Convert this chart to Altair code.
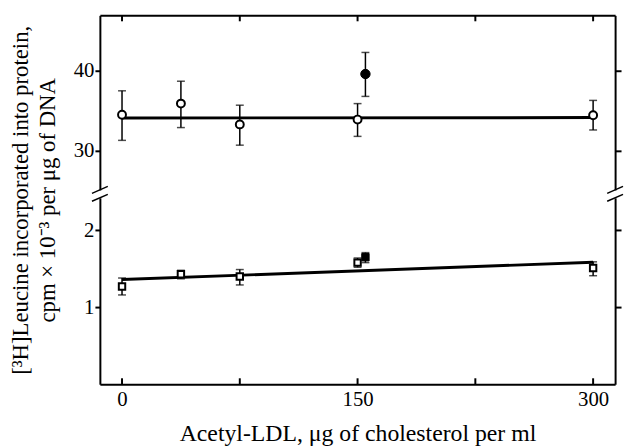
import altair as alt
import pandas as pd

# ---------------- data ----------------
doses = [0, 37.5, 75, 150, 300]

upper_mean = [34.5, 35.9, 33.3, 33.9, 34.45]
upper_low = [31.3, 32.9, 30.7, 31.8, 32.6]
upper_high = [37.5, 38.7, 35.7, 35.9, 36.3]
upper_filled_x = [155]
upper_filled_mean = [39.6]
upper_filled_low = [36.8]
upper_filled_high = [42.3]
upper_fit_x = [0, 300]
upper_fit_y = [34.1, 34.15]

lower_mean = [1.27, 1.43, 1.40, 1.58, 1.51]
lower_low = [1.16, 1.37, 1.29, 1.52, 1.41]
lower_high = [1.38, 1.48, 1.49, 1.64, 1.59]
lower_filled_x = [155]
lower_filled_mean = [1.65]
lower_filled_low = [1.58]
lower_filled_high = [1.71]
lower_fit_x = [0, 300]
lower_fit_y = [1.36, 1.585]

x_tick_values = [0, 75, 150, 225, 300]
x_label_values = [0, 150, 300]
upper_y_ticks = [30, 40]
lower_y_ticks = [1, 2]

x_title = "Acetyl-LDL, μg of cholesterol per ml"
y_title = ["[³H]Leucine incorporated into protein,", "cpm × 10⁻³ per μg of DNA"]

# ---------------- layout constants ----------------
W = 521
H_UP = 180
H_LO = 193
X_DOMAIN = [-14.1, 314.0]
Y_UP_DOMAIN = [24.67, 46.94]
Y_LO_DOMAIN = [0, 2.48]
FONT = "Liberation Serif"
FS = 21
TFS = 23


def panel(mean, low, high, fx, fmean, flow, fhigh, fit_x, fit_y,
          ydomain, height, yticks, shape, psize, fsize, is_upper):
    pts = pd.DataFrame({"x": doses, "m": mean, "lo": low, "hi": high})
    fpts = pd.DataFrame({"x": fx, "m": fmean, "lo": flow, "hi": fhigh})
    allpts = pd.concat([pts, fpts], ignore_index=True)
    fit = pd.DataFrame({"x": fit_x, "y": fit_y})
    ticks_df = pd.DataFrame({"x": x_tick_values})

    xscale = alt.Scale(domain=X_DOMAIN, nice=False, zero=False)
    yscale = alt.Scale(domain=ydomain, nice=False, zero=False)

    if is_upper:
        xaxis = alt.Axis(orient="top", labels=False, ticks=False, domain=True,
                         title=None, grid=False, domainWidth=2)
        left_axis = alt.Axis(orient="left", values=yticks, tickSize=5, tickWidth=2,
                             labelPadding=1, domainWidth=2, grid=False,
                             title=y_title, titlePadding=14, titleY=186.5,
                             titleLineHeight=27)
    else:
        xaxis = alt.Axis(orient="bottom", values=x_label_values, ticks=False, tickSize=0,
                         labelPadding=5, domainWidth=2, grid=False,
                         title=x_title, titlePadding=12, titleFontSize=24)
        left_axis = alt.Axis(orient="left", values=yticks, tickSize=5, tickWidth=2,
                             labelPadding=1, domainWidth=2, grid=False, title=None)
    right_axis = alt.Axis(orient="right", values=yticks, labels=False, tickSize=6,
                          tickWidth=2, domainWidth=2, grid=False, title=None)

    X = alt.X("x:Q", scale=xscale, axis=xaxis)

    fit_line = alt.Chart(fit).mark_line(color="black", strokeWidth=3).encode(
        x=X, y=alt.Y("y:Q", scale=yscale, axis=left_axis))
    err = alt.Chart(allpts).mark_rule(color="black", strokeWidth=1.5).encode(
        x=X, y=alt.Y("lo:Q", scale=yscale, axis=None), y2="hi:Q")
    cap_lo = alt.Chart(allpts).mark_tick(color="black", orient="horizontal", size=8,
                                         thickness=1.5).encode(
        x=X, y=alt.Y("lo:Q", scale=yscale, axis=None))
    cap_hi = alt.Chart(allpts).mark_tick(color="black", orient="horizontal", size=8,
                                         thickness=1.5).encode(
        x=X, y=alt.Y("hi:Q", scale=yscale, axis=None))
    open_pts = alt.Chart(pts).mark_point(shape=shape, filled=True, fill="white",
                                         stroke="black", strokeWidth=2, size=psize,
                                         opacity=1).encode(
        x=X, y=alt.Y("m:Q", scale=yscale, axis=right_axis))
    filled_pts = alt.Chart(fpts).mark_point(shape=shape, filled=True, fill="black",
                                            stroke="black", strokeWidth=1, size=fsize,
                                            opacity=1).encode(
        x=X, y=alt.Y("m:Q", scale=yscale, axis=None))
    if is_upper:
        inward = alt.Chart(ticks_df).mark_rule(color="black", strokeWidth=2).encode(
            x=X, y=alt.value(0), y2=alt.value(6))
    else:
        inward = alt.Chart(ticks_df).mark_rule(color="black", strokeWidth=2).encode(
            x=X, y=alt.value(height), y2=alt.value(height - 6))

    layers = [fit_line, err, cap_lo, cap_hi, open_pts, filled_pts, inward]

    if not is_upper:
        one = alt.Data(values=[{"k": 1}])
        for xb in (0, W):
            layers.append(alt.Chart(one).mark_rule(color="white", strokeWidth=5).encode(
                x=alt.value(xb), y=alt.value(-3), y2=alt.value(5)))
            layers.append(alt.Chart(one).mark_rule(color="black", strokeWidth=1.5).encode(
                x=alt.value(xb - 8), y=alt.value(0), x2=alt.value(xb + 8), y2=alt.value(-7)))
            layers.append(alt.Chart(one).mark_rule(color="black", strokeWidth=1.5).encode(
                x=alt.value(xb - 8), y=alt.value(8), x2=alt.value(xb + 8), y2=alt.value(1)))

    return alt.layer(*layers).resolve_axis(y="independent").properties(
        width=W, height=height)


upper = panel(upper_mean, upper_low, upper_high, upper_filled_x, upper_filled_mean,
              upper_filled_low, upper_filled_high, upper_fit_x, upper_fit_y,
              Y_UP_DOMAIN, H_UP, upper_y_ticks, "circle", 64, 90, True)
lower = panel(lower_mean, lower_low, lower_high, lower_filled_x, lower_filled_mean,
              lower_filled_low, lower_filled_high, lower_fit_x, lower_fit_y,
              Y_LO_DOMAIN, H_LO, lower_y_ticks, "square", 42, 56, False)

chart = alt.vconcat(upper, lower, spacing=0, bounds="flush").properties(
    padding={"left": 10, "top": 12, "right": 0, "bottom": 3},
    background="white"
).configure_view(stroke=None).configure_axis(
    labelFont=FONT, labelFontSize=FS, labelColor="black",
    titleFont=FONT, titleFontSize=TFS, titleFontWeight="normal", titleColor="black",
    domainColor="black", tickColor="black"
)

chart.save("out.html", embed_options={"renderer": "svg", "actions": False})
